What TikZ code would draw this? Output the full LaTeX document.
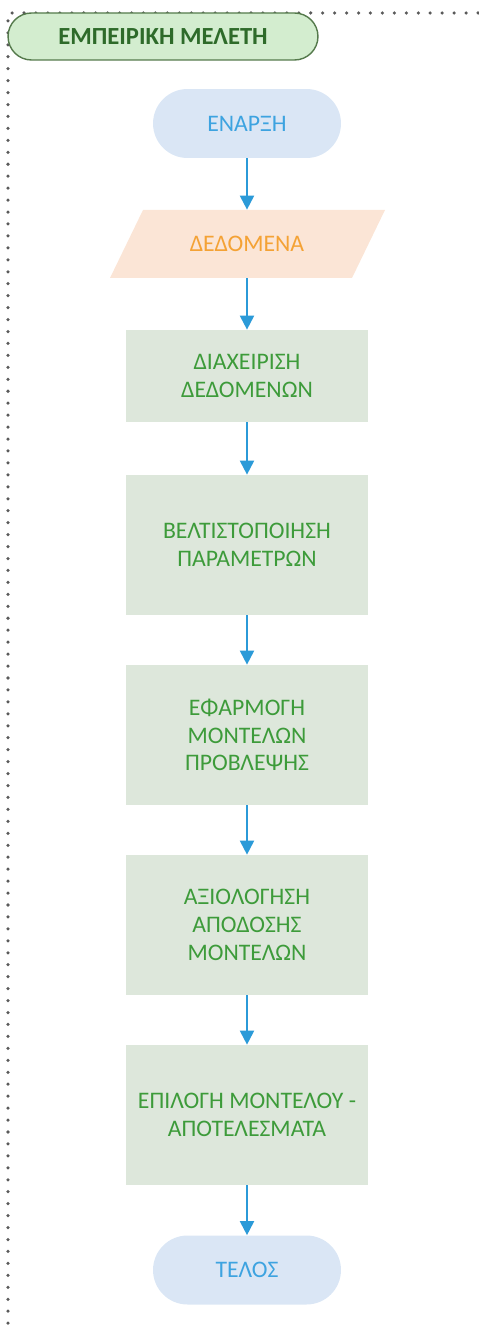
\documentclass[tikz,border=0pt]{standalone}
\usepackage{fontspec}
\setmainfont{Carlito}
\usepackage{xcolor}
\usetikzlibrary{arrows.meta}

\definecolor{framegray}{HTML}{5A5A5A}
\definecolor{titlefill}{HTML}{D3EDCF}
\definecolor{titledraw}{HTML}{557A4C}
\definecolor{titletext}{HTML}{2E6B2A}
\definecolor{termfill}{HTML}{DAE6F5}
\definecolor{termtext}{HTML}{3DA3E0}
\definecolor{datafill}{HTML}{FBE5D6}
\definecolor{datatext}{HTML}{F4A235}
\definecolor{stepfill}{HTML}{DDE7DB}
\definecolor{steptext}{HTML}{3D9B3A}
\definecolor{flowblue}{HTML}{2B9AD8}

\tikzset{
  titlebox/.style = {draw = titledraw, line width = 0.8pt, fill = titlefill,
    rounded corners = 0.47cm, minimum width = 6.2cm, minimum height = 0.94cm,
    text = titletext, font = \fontsize{14}{16}\selectfont\bfseries},
  terminal/.style = {fill = termfill, rounded corners = 0.69cm,
    minimum width = 3.76cm, minimum height = 1.38cm,
    text = termtext, font = \fontsize{13.5}{15.8}\selectfont},
  stepbox/.style = {fill = stepfill, minimum width = 4.84cm, minimum height = 2.8cm,
    text = steptext, align = center, font = \fontsize{13.5}{15.8}\selectfont},
  flow/.style = {draw = flowblue, line width = 1.1pt,
    -{Triangle[width = 8pt, length = 8pt]}}
}

\begin{document}
\begin{tikzpicture}[x = 0.02cm, y = -0.02cm]
    \useasboundingbox (0, 0) rectangle (478, 1327);
    % dotted frame
    \draw[framegray, line width = 2pt, line cap = round, dash pattern = on 0pt off 6.8pt]
      (478, 13) -- (8, 13) -- (8, 1327);
    \node[titlebox] (title) at (163, 36.5) {ΕΜΠΕΙΡΙΚΗ ΜΕΛΕΤΗ};
    % flow
    \node[terminal] (start) at (247, 123.5) {ΕΝΑΡΞΗ};
    \fill[datafill] (110, 278) -- (143, 210) -- (385, 210) -- (352, 278) -- cycle;
    \node[minimum width = 4.84cm, minimum height = 1.36cm, text = datatext,
      font = \fontsize{13.5}{15.8}\selectfont] (data) at (247, 244) {ΔΕΔΟΜΕΝΑ};
    \node[stepbox, minimum height = 1.84cm] (manage) at (247, 376) {ΔΙΑΧΕΙΡΙΣΗ\\ΔΕΔΟΜΕΝΩΝ};
    \node[stepbox] (tune) at (247, 545) {ΒΕΛΤΙΣΤΟΠΟΙΗΣΗ\\ΠΑΡΑΜΕΤΡΩΝ};
    \node[stepbox] (apply) at (247, 735) {ΕΦΑΡΜΟΓΗ\\ΜΟΝΤΕΛΩΝ\\ΠΡΟΒΛΕΨΗΣ};
    \node[stepbox] (assess) at (247, 925) {ΑΞΙΟΛΟΓΗΣΗ\\ΑΠΟΔΟΣΗΣ\\ΜΟΝΤΕΛΩΝ};
    \node[stepbox] (select) at (247, 1115) {ΕΠΙΛΟΓΗ ΜΟΝΤΕΛΟΥ -\\ΑΠΟΤΕΛΕΣΜΑΤΑ};
    \node[terminal] (finish) at (247, 1270) {ΤΕΛΟΣ};
    \draw[flow] (start) -- (data);
    \draw[flow] (data) -- (manage);
    \draw[flow] (manage) -- (tune);
    \draw[flow] (tune) -- (apply);
    \draw[flow] (apply) -- (assess);
    \draw[flow] (assess) -- (select);
    \draw[flow] (select) -- (finish);
  \end{tikzpicture}
\end{document}
